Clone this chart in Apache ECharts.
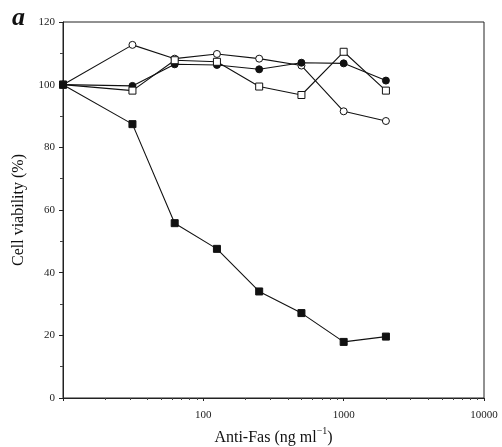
<!DOCTYPE html>
<html><head><meta charset="utf-8">
<script src="https://cdn.jsdelivr.net/npm/echarts@6/dist/echarts.min.js"></script>
<style>html,body{margin:0;padding:0;background:#fff}#c{width:502px;height:447px}</style>
</head><body><div id="c"></div>
<script>
const doses = [10, 31.25, 62.5, 125, 250, 500, 1000, 2000];
const openCircle = [100, 112.7, 108.3, 109.8, 108.3, 106.1, 91.5, 88.4];
const filledCircle = [100, 99.6, 106.5, 106.3, 104.9, 107.0, 106.8, 101.3];
const openSquare = [100, 98.1, 107.8, 107.3, 99.4, 96.7, 110.5, 98.1];
const filledSquare = [100, 87.4, 55.8, 47.6, 34.0, 27.1, 17.9, 19.6];
const xLabels = [100, 1000, 10000];
const xMajorTicks = [10, 100, 1000, 10000];
const xMinorTicks = [20,30,40,50,60,70,80,90,200,300,400,500,600,700,800,900,2000,3000,4000,5000,6000,7000,8000,9000];

const font = 'Liberation Serif, Times New Roman, serif';
const pair = (ys) => doses.map((d, i) => [d, ys[i]]);

const chart = echarts.init(document.getElementById('c'), null, {renderer: 'canvas'});
const lineStyle = {color: '#111', width: 1.1};
function ser(name, ys, symbol, fill, size) {
  return {
    name, type: 'line', data: pair(ys), symbol, symbolSize: size,
    lineStyle, itemStyle: {color: fill, borderColor: '#111', borderWidth: 1},
    emphasis: {disabled: true}, z: 3
  };
}
chart.setOption({
  animation: false,
  backgroundColor: '#fff',
  grid: {left: 63, right: 18, top: 22, bottom: 49, outerBoundsMode: 'none', containLabel: false,
    show: true, borderColor: '#222', borderWidth: 1, backgroundColor: 'transparent'},
  graphic: [{type: 'text', left: 12, top: 5, style: {text: 'a', font: 'italic bold 26px ' + font, fill: '#111'}}],
  xAxis: [{
    type: 'log', logBase: 10, min: 10, max: 10000,
    axisLine: {show: true, lineStyle: {color: '#222', width: 1}},
    axisTick: {show: true, inside: false, length: 3, customValues: xMajorTicks, lineStyle: {color: '#222'}},
    axisLabel: {customValues: xLabels, color: '#222', fontFamily: font, fontSize: 11, margin: 12,
      formatter: (v) => String(Math.round(v))},
    splitLine: {show: false},
    name: '{a|Anti-Fas (ng ml}{s|−1}{a|)}',
    nameLocation: 'middle', nameGap: 28,
    nameTextStyle: {rich: {
      a: {fontFamily: font, fontSize: 16, color: '#111', verticalAlign: 'bottom', lineHeight: 20},
      s: {fontFamily: font, fontSize: 10, color: '#111', verticalAlign: 'top', lineHeight: 20, padding: [0,0,10,0]}
    }}
  }, {
    type: 'log', logBase: 10, min: 10, max: 10000, position: 'bottom',
    axisLine: {show: false},
    axisTick: {show: true, inside: false, length: 2, customValues: xMinorTicks, lineStyle: {color: '#444'}},
    axisLabel: {show: false}, splitLine: {show: false}
  }],
  yAxis: {
    type: 'value', min: 0, max: 120, interval: 20,
    axisLine: {show: true, lineStyle: {color: '#222', width: 1}},
    axisTick: {show: true, inside: false, length: 4, lineStyle: {color: '#222'}},
    minorTick: {show: true, splitNumber: 2, length: 3, lineStyle: {color: '#444'}},
    axisLabel: {color: '#222', fontFamily: font, fontSize: 11, margin: 8},
    splitLine: {show: false},
    name: 'Cell viability (%)', nameLocation: 'middle', nameGap: 36,
    nameTextStyle: {fontFamily: font, fontSize: 16, color: '#111'}
  },
  series: [
    ser('open circle', openCircle, 'circle', '#fff', 7),
    ser('filled circle', filledCircle, 'circle', '#111', 7),
    ser('open square', openSquare, 'rect', '#fff', 7),
    ser('filled square', filledSquare, 'rect', '#111', 7)
  ]
});
</script></body></html>
